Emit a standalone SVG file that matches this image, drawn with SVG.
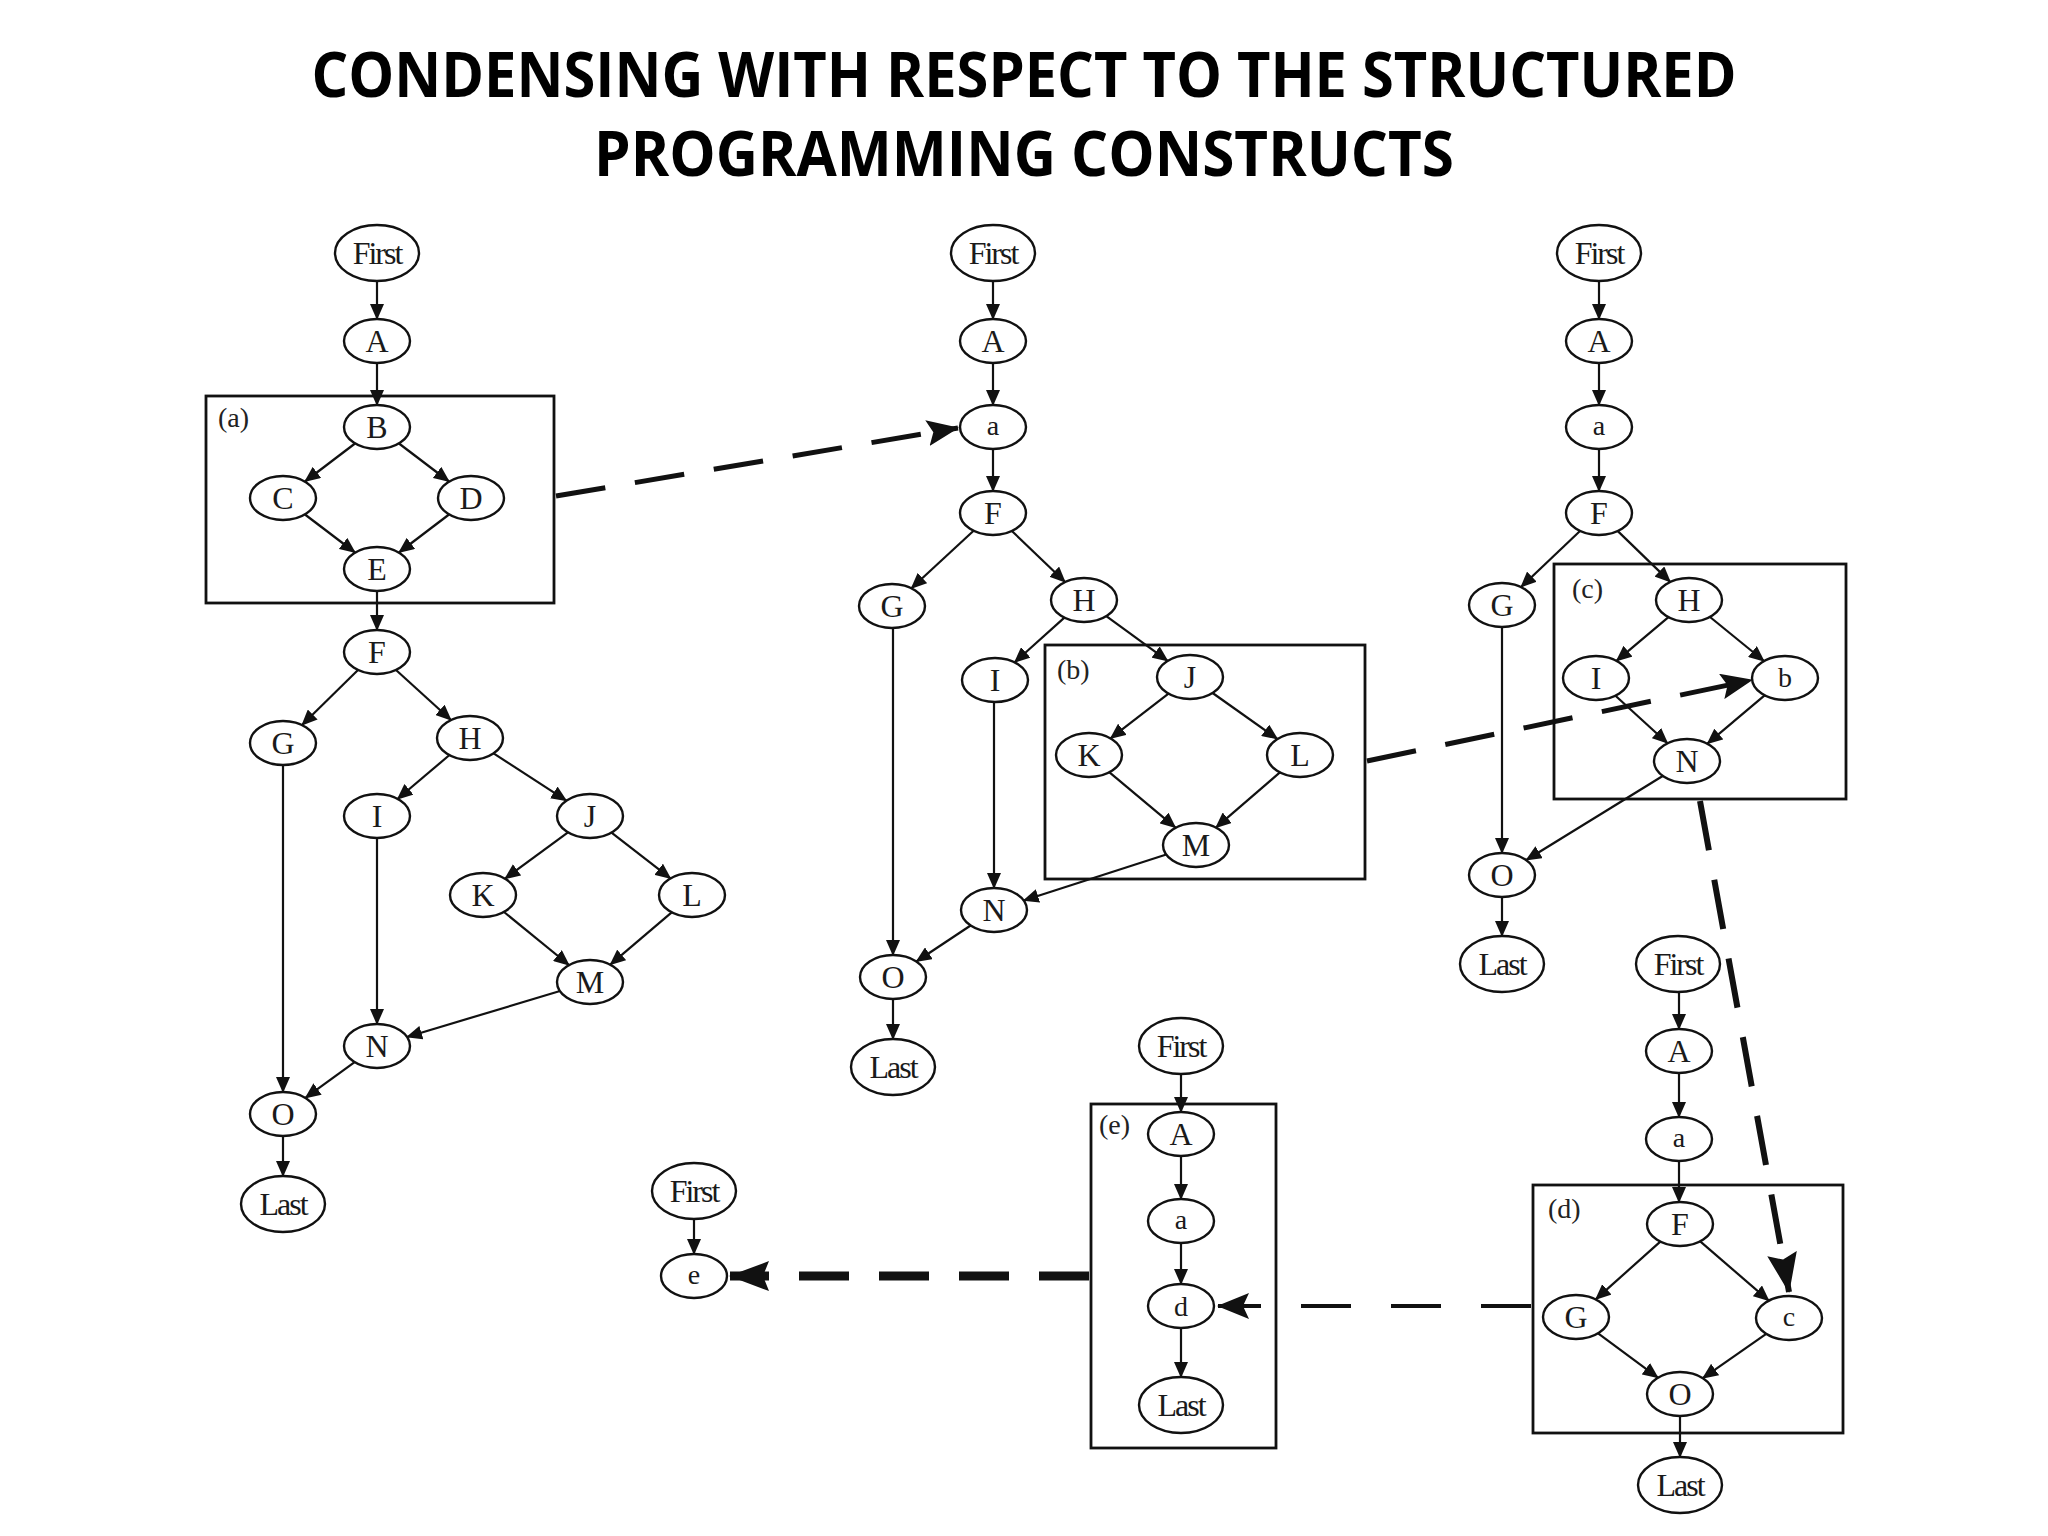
<svg xmlns="http://www.w3.org/2000/svg" width="2048" height="1536" viewBox="0 0 2048 1536">
<style>
.n ellipse{fill:#fff;stroke:#111;stroke-width:2.4}
.n text{font-family:"Liberation Serif",serif;font-size:32px;fill:#1a1a1a;text-anchor:middle}
.n text.s{font-size:28px}
.n text.w{font-size:32px;letter-spacing:-2px}
.box{fill:none;stroke:#111;stroke-width:2.8}
.lbl{font-family:"Liberation Serif",serif;font-size:28px;fill:#222}
.e line{stroke:#111;stroke-width:2.2;marker-end:url(#ah)}
.d line{stroke:#111;fill:none}
.title{font-family:"Open Sans","Liberation Sans",sans-serif;font-weight:bold;font-size:62px;fill:#000;text-anchor:middle}
</style>
<defs>
<marker id="ah" viewBox="0 0 16 14" refX="15" refY="7" markerWidth="16" markerHeight="14" orient="auto" markerUnits="userSpaceOnUse"><path d="M0,0 L16,7 L0,14 z" fill="#111"/></marker>
<marker id="bh" viewBox="0 0 32 26" refX="31" refY="13" markerWidth="32" markerHeight="26" orient="auto" markerUnits="userSpaceOnUse"><path d="M0,0 L32,13 L0,26 L6,13 z" fill="#111"/></marker>
<marker id="ch" viewBox="0 0 40 30" refX="39" refY="15" markerWidth="40" markerHeight="30" orient="auto" markerUnits="userSpaceOnUse"><path d="M0,0 L40,15 L0,30 L6,15 z" fill="#111"/></marker>
</defs>
<rect width="2048" height="1536" fill="#fff"/>
<text class="title" x="1024" y="97" textLength="1425" lengthAdjust="spacingAndGlyphs">CONDENSING WITH RESPECT TO THE STRUCTURED</text>
<text class="title" x="1024" y="176" textLength="860" lengthAdjust="spacingAndGlyphs">PROGRAMMING CONSTRUCTS</text>

<g id="boxes">
<rect class="box" x="206" y="396" width="348" height="207"/>
<text class="lbl" x="218" y="427">(a)</text>
<rect class="box" x="1045" y="645" width="320" height="234"/>
<text class="lbl" x="1057" y="679">(b)</text>
<rect class="box" x="1554" y="564" width="292" height="235"/>
<text class="lbl" x="1572" y="598">(c)</text>
<rect class="box" x="1533" y="1185" width="310" height="248"/>
<text class="lbl" x="1548" y="1218">(d)</text>
<rect class="box" x="1091" y="1104" width="185" height="344"/>
<text class="lbl" x="1099" y="1134">(e)</text>
</g>

<g id="connectors">
<g class="e">
<line x1="377" y1="281" x2="377" y2="319"/>
<line x1="377" y1="363" x2="377" y2="405"/>
<line x1="355" y1="443.5" x2="305" y2="481.5"/>
<line x1="399" y1="443.5" x2="449" y2="481.5"/>
<line x1="305" y1="514.5" x2="355" y2="552.5"/>
<line x1="449" y1="514.5" x2="399" y2="552.5"/>
<line x1="377" y1="591" x2="377" y2="630"/>
<line x1="358" y1="670" x2="302" y2="725"/>
<line x1="396" y1="670" x2="451" y2="720"/>
<line x1="449.5" y1="755" x2="397.5" y2="799"/>
<line x1="493.6" y1="753.4" x2="566.4" y2="800.6"/>
<line x1="568" y1="832.3" x2="505" y2="878.7"/>
<line x1="611.5" y1="832.6" x2="670.5" y2="878.4"/>
<line x1="504" y1="912" x2="569" y2="965"/>
<line x1="671.7" y1="912.3" x2="610.3" y2="964.7"/>
<line x1="560" y1="991" x2="407" y2="1037"/>
<line x1="377" y1="838" x2="377" y2="1024"/>
<line x1="283" y1="765" x2="283" y2="1092"/>
<line x1="354.6" y1="1062.2" x2="305.4" y2="1097.8"/>
<line x1="283" y1="1136" x2="283" y2="1176"/>
<line x1="993" y1="281" x2="993" y2="319"/>
<line x1="993" y1="363" x2="993" y2="405"/>
<line x1="993" y1="449" x2="993" y2="491"/>
<line x1="973.6" y1="530.8" x2="911.4" y2="588.2"/>
<line x1="1011.9" y1="531" x2="1065.1" y2="582"/>
<line x1="1064.4" y1="617.6" x2="1014.6" y2="662.4"/>
<line x1="1106.3" y1="616.2" x2="1167.7" y2="660.8"/>
<line x1="1168.5" y1="693.6" x2="1110.5" y2="738.4"/>
<line x1="1212.6" y1="693" x2="1277.4" y2="739"/>
<line x1="1109.5" y1="772.3" x2="1175.5" y2="827.7"/>
<line x1="1279.9" y1="772.4" x2="1215.9" y2="827.6"/>
<line x1="1166.3" y1="854.5" x2="1023.7" y2="900.5"/>
<line x1="994" y1="702" x2="994" y2="888"/>
<line x1="893" y1="628" x2="893" y2="955"/>
<line x1="970.6" y1="925.5" x2="916.4" y2="961.5"/>
<line x1="893" y1="999" x2="893" y2="1039"/>
<line x1="1599" y1="281" x2="1599" y2="319"/>
<line x1="1599" y1="363" x2="1599" y2="405"/>
<line x1="1599" y1="449" x2="1599" y2="491"/>
<line x1="1580" y1="531" x2="1521" y2="587"/>
<line x1="1617.8" y1="531.1" x2="1670.2" y2="581.9"/>
<line x1="1668.5" y1="617.2" x2="1616.5" y2="660.8"/>
<line x1="1710" y1="617" x2="1764" y2="661"/>
<line x1="1615.5" y1="695.8" x2="1667.5" y2="743.2"/>
<line x1="1764.6" y1="695.3" x2="1707.4" y2="743.7"/>
<line x1="1662.7" y1="776" x2="1526.3" y2="860"/>
<line x1="1502" y1="627" x2="1502" y2="853"/>
<line x1="1502" y1="897" x2="1502" y2="936"/>
<line x1="1679" y1="992" x2="1679" y2="1029"/>
<line x1="1679" y1="1073" x2="1679" y2="1117"/>
<line x1="1679" y1="1161" x2="1679" y2="1202"/>
<line x1="1660.3" y1="1241.6" x2="1595.7" y2="1299.4"/>
<line x1="1700.2" y1="1241.4" x2="1768.8" y2="1300.6"/>
<line x1="1598.1" y1="1333.4" x2="1657.9" y2="1377.6"/>
<line x1="1766.2" y1="1333.9" x2="1702.8" y2="1378.1"/>
<line x1="1680" y1="1416" x2="1680" y2="1457"/>
<line x1="1181" y1="1074" x2="1181" y2="1112"/>
<line x1="1181" y1="1156" x2="1181" y2="1199"/>
<line x1="1181" y1="1243" x2="1181" y2="1284"/>
<line x1="1181" y1="1328" x2="1181" y2="1377"/>
<line x1="694" y1="1219" x2="694" y2="1254"/>
</g>
<g class="d">
<line x1="556" y1="496" x2="958" y2="428" stroke-width="5" stroke-dasharray="50,30" marker-end="url(#bh)"/>
<line x1="1367" y1="761" x2="1752" y2="680" stroke-width="5" stroke-dasharray="50,30" marker-end="url(#bh)"/>
<line x1="1700" y1="801" x2="1789" y2="1292" stroke-width="6" stroke-dasharray="50,30" marker-end="url(#ch)"/>
<line x1="1531" y1="1306" x2="1218" y2="1306" stroke-width="4" stroke-dasharray="50,40" marker-end="url(#bh)"/>
<line x1="1089" y1="1276" x2="730" y2="1276" stroke-width="9" stroke-dasharray="50,30" marker-end="url(#ch)"/>
</g>
</g>

<g id="g1-first" class="n"><ellipse cx="377" cy="253" rx="42" ry="28"/><text class="w" x="377" y="264">First</text></g>
<g id="g1-A" class="n"><ellipse cx="377" cy="341" rx="33" ry="22"/><text x="377" y="352">A</text></g>
<g id="g1-B" class="n"><ellipse cx="377" cy="427" rx="33" ry="22"/><text x="377" y="438">B</text></g>
<g id="g1-C" class="n"><ellipse cx="283" cy="498" rx="33" ry="22"/><text x="283" y="509">C</text></g>
<g id="g1-D" class="n"><ellipse cx="471" cy="498" rx="33" ry="22"/><text x="471" y="509">D</text></g>
<g id="g1-E" class="n"><ellipse cx="377" cy="569" rx="33" ry="22"/><text x="377" y="580">E</text></g>
<g id="g1-F" class="n"><ellipse cx="377" cy="652" rx="33" ry="22"/><text x="377" y="663">F</text></g>
<g id="g1-G" class="n"><ellipse cx="283" cy="743" rx="33" ry="22"/><text x="283" y="754">G</text></g>
<g id="g1-H" class="n"><ellipse cx="470" cy="738" rx="33" ry="22"/><text x="470" y="749">H</text></g>
<g id="g1-I" class="n"><ellipse cx="377" cy="816" rx="33" ry="22"/><text x="377" y="827">I</text></g>
<g id="g1-J" class="n"><ellipse cx="590" cy="816" rx="33" ry="22"/><text x="590" y="827">J</text></g>
<g id="g1-K" class="n"><ellipse cx="483" cy="895" rx="33" ry="22"/><text x="483" y="906">K</text></g>
<g id="g1-L" class="n"><ellipse cx="692" cy="895" rx="33" ry="22"/><text x="692" y="906">L</text></g>
<g id="g1-M" class="n"><ellipse cx="590" cy="982" rx="33" ry="22"/><text x="590" y="993">M</text></g>
<g id="g1-N" class="n"><ellipse cx="377" cy="1046" rx="33" ry="22"/><text x="377" y="1057">N</text></g>
<g id="g1-O" class="n"><ellipse cx="283" cy="1114" rx="33" ry="22"/><text x="283" y="1125">O</text></g>
<g id="g1-last" class="n"><ellipse cx="283" cy="1204" rx="42" ry="28"/><text class="w" x="283" y="1215">Last</text></g>

<g id="g2-first" class="n"><ellipse cx="993" cy="253" rx="42" ry="28"/><text class="w" x="993" y="264">First</text></g>
<g id="g2-A" class="n"><ellipse cx="993" cy="341" rx="33" ry="22"/><text x="993" y="352">A</text></g>
<g id="g2-a" class="n"><ellipse cx="993" cy="427" rx="33" ry="22"/><text class="s" x="993" y="435">a</text></g>
<g id="g2-F" class="n"><ellipse cx="993" cy="513" rx="33" ry="22"/><text x="993" y="524">F</text></g>
<g id="g2-G" class="n"><ellipse cx="892" cy="606" rx="33" ry="22"/><text x="892" y="617">G</text></g>
<g id="g2-H" class="n"><ellipse cx="1084" cy="600" rx="33" ry="22"/><text x="1084" y="611">H</text></g>
<g id="g2-I" class="n"><ellipse cx="995" cy="680" rx="33" ry="22"/><text x="995" y="691">I</text></g>
<g id="g2-J" class="n"><ellipse cx="1190" cy="677" rx="33" ry="22"/><text x="1190" y="688">J</text></g>
<g id="g2-K" class="n"><ellipse cx="1089" cy="755" rx="33" ry="22"/><text x="1089" y="766">K</text></g>
<g id="g2-L" class="n"><ellipse cx="1300" cy="755" rx="33" ry="22"/><text x="1300" y="766">L</text></g>
<g id="g2-M" class="n"><ellipse cx="1196" cy="845" rx="33" ry="22"/><text x="1196" y="856">M</text></g>
<g id="g2-N" class="n"><ellipse cx="994" cy="910" rx="33" ry="22"/><text x="994" y="921">N</text></g>
<g id="g2-O" class="n"><ellipse cx="893" cy="977" rx="33" ry="22"/><text x="893" y="988">O</text></g>
<g id="g2-last" class="n"><ellipse cx="893" cy="1067" rx="42" ry="28"/><text class="w" x="893" y="1078">Last</text></g>

<g id="g3-first" class="n"><ellipse cx="1599" cy="253" rx="42" ry="28"/><text class="w" x="1599" y="264">First</text></g>
<g id="g3-A" class="n"><ellipse cx="1599" cy="341" rx="33" ry="22"/><text x="1599" y="352">A</text></g>
<g id="g3-a" class="n"><ellipse cx="1599" cy="427" rx="33" ry="22"/><text class="s" x="1599" y="435">a</text></g>
<g id="g3-F" class="n"><ellipse cx="1599" cy="513" rx="33" ry="22"/><text x="1599" y="524">F</text></g>
<g id="g3-G" class="n"><ellipse cx="1502" cy="605" rx="33" ry="22"/><text x="1502" y="616">G</text></g>
<g id="g3-H" class="n"><ellipse cx="1689" cy="600" rx="33" ry="22"/><text x="1689" y="611">H</text></g>
<g id="g3-I" class="n"><ellipse cx="1596" cy="678" rx="33" ry="22"/><text x="1596" y="689">I</text></g>
<g id="g3-b" class="n"><ellipse cx="1785" cy="678" rx="33" ry="22"/><text class="s" x="1785" y="687">b</text></g>
<g id="g3-N" class="n"><ellipse cx="1687" cy="761" rx="33" ry="22"/><text x="1687" y="772">N</text></g>
<g id="g3-O" class="n"><ellipse cx="1502" cy="875" rx="33" ry="22"/><text x="1502" y="886">O</text></g>
<g id="g3-last" class="n"><ellipse cx="1502" cy="964" rx="42" ry="28"/><text class="w" x="1502" y="975">Last</text></g>

<g id="g4-first" class="n"><ellipse cx="1678" cy="964" rx="42" ry="28"/><text class="w" x="1678" y="975">First</text></g>
<g id="g4-A" class="n"><ellipse cx="1679" cy="1051" rx="33" ry="22"/><text x="1679" y="1062">A</text></g>
<g id="g4-a" class="n"><ellipse cx="1679" cy="1139" rx="33" ry="22"/><text class="s" x="1679" y="1147">a</text></g>
<g id="g4-F" class="n"><ellipse cx="1680" cy="1224" rx="33" ry="22"/><text x="1680" y="1235">F</text></g>
<g id="g4-G" class="n"><ellipse cx="1576" cy="1317" rx="33" ry="22"/><text x="1576" y="1328">G</text></g>
<g id="g4-c" class="n"><ellipse cx="1789" cy="1318" rx="33" ry="22"/><text class="s" x="1789" y="1326">c</text></g>
<g id="g4-O" class="n"><ellipse cx="1680" cy="1394" rx="33" ry="22"/><text x="1680" y="1405">O</text></g>
<g id="g4-last" class="n"><ellipse cx="1680" cy="1485" rx="42" ry="28"/><text class="w" x="1680" y="1496">Last</text></g>

<g id="g5-first" class="n"><ellipse cx="1181" cy="1046" rx="42" ry="28"/><text class="w" x="1181" y="1057">First</text></g>
<g id="g5-A" class="n"><ellipse cx="1181" cy="1134" rx="33" ry="22"/><text x="1181" y="1145">A</text></g>
<g id="g5-a" class="n"><ellipse cx="1181" cy="1221" rx="33" ry="22"/><text class="s" x="1181" y="1229">a</text></g>
<g id="g5-d" class="n"><ellipse cx="1181" cy="1306" rx="33" ry="22"/><text class="s" x="1181" y="1316">d</text></g>
<g id="g5-last" class="n"><ellipse cx="1181" cy="1405" rx="42" ry="28"/><text class="w" x="1181" y="1416">Last</text></g>

<g id="g6-first" class="n"><ellipse cx="694" cy="1191" rx="42" ry="28"/><text class="w" x="694" y="1202">First</text></g>
<g id="g6-e" class="n"><ellipse cx="694" cy="1276" rx="33" ry="22"/><text class="s" x="694" y="1284">e</text></g>
</svg>
